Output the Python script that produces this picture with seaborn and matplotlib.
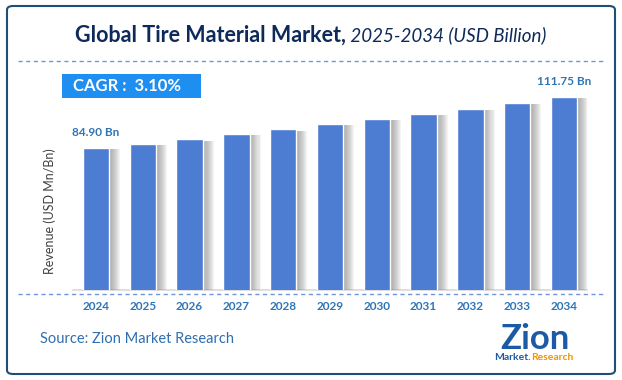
import numpy as np
import pandas as pd
import matplotlib
matplotlib.use("Agg")
import matplotlib.pyplot as plt
import matplotlib.patheffects as pe
from matplotlib.patches import FancyBboxPatch, Rectangle
from matplotlib.lines import Line2D
import seaborn as sns

# data
years = ["2024", "2025", "2026", "2027", "2028", "2029",
         "2030", "2031", "2032", "2033", "2034"]
revenue = [84.90, 87.0, 89.4, 92.3, 94.7, 97.5, 100.1, 102.9, 105.3, 108.5, 111.75]
labelled = {"2024": "84.90 Bn", "2034": "111.75 Bn"}
cagr_text = "CAGR :  3.10%"
title_main = "Global Tire Material Market,"
title_sub = " 2025-2034 (USD Billion)"
source_text = "Source: Zion Market Research"

bar_color = "#4d7dd3"
label_color = "#2e75b6"
navy = "#0e2a5a"

sns.set_theme(style="white")
plt.rcParams['font.family'] = ['Lato', 'DejaVu Sans']

df = pd.DataFrame({"year": years, "revenue": revenue})

W, H = 622, 380
fig = plt.figure(figsize=(W / 100, H / 100), dpi=100)
ax = fig.add_axes([72.6 / W, 1 - 290 / H, 514.8 / W, 215 / H])

sns.barplot(data=df, x="year", y="revenue", color=bar_color, width=0.56,
            saturation=1, ax=ax, zorder=3)
# soft grey shadow on the right of each bar
shadow = [pe.SimplePatchShadow(offset=(k, -1), shadow_rgbFace="#6f6f6f", alpha=0.07)
          for k in np.arange(8, 0.5, -0.75)]
for p in ax.patches:
    p.set_path_effects(shadow + [pe.Normal()])

ax.set_ylim(10.6, 123.1)
ax.set_xlim(-0.5, len(years) - 0.5)
ax.set_yticks([])
ax.set_xlabel("")
ax.set_ylabel("Revenue (USD Mn/Bn)", fontsize=9, color="#404040")
ax.yaxis.set_label_coords((56 - 72.6) / 514.8, (290 - 211) / 215)
for s in ["top", "right", "left"]:
    ax.spines[s].set_visible(False)
ax.spines["bottom"].set_color("#d9d9d9")
ax.spines["bottom"].set_linewidth(1.2)
ax.tick_params(axis="x", length=0, pad=8, labelsize=8.5, labelcolor=label_color)
for t in ax.get_xticklabels():
    t.set_fontweight("bold")

for i, (yr, val) in enumerate(zip(years, revenue)):
    if yr in labelled:
        ax.annotate(labelled[yr], (i, val), xytext=(0, 7), textcoords="offset points",
                    ha="center", va="bottom", fontsize=8.5, fontweight="bold",
                    color=label_color)

# title
t1 = fig.text(75 / W, 1 - 35 / H, title_main, ha="left", va="center",
              fontsize=15.5, fontweight="bold", color=navy)
ax.annotate(title_sub, xy=(1, 0.05), xycoords=t1, ha="left", va="bottom",
            fontsize=13.5, fontstyle="italic", color=navy, annotation_clip=False)

# dashed separators
for yy in (61, 294):
    fig.add_artist(Line2D([18 / W, 603 / W], [1 - yy / H, 1 - yy / H],
                          color="#6f97d8", lw=1, ls=(0, (3, 2.5))))

# CAGR box
fig.add_artist(Rectangle((61.5 / W, 1 - 97.7 / H), 140 / W, 23.7 / H,
                         transform=fig.transFigure, color="#1f8ef1", lw=0))
fig.text(73 / W, 1 - 86 / H, cagr_text, ha="left", va="center",
         fontsize=12, fontweight="bold", color="white")

# source
fig.text(40 / W, 1 - 339 / H, source_text, ha="left", va="center",
         fontsize=10.5, color="#2f6eb0")

# logo
fig.text(535 / W, 1 - 339 / H, "Zion", ha="center", va="center",
         fontsize=25, fontweight="bold", color="#1c5aa6")
fig.text(531 / W, 1 - 358 / H, "Market.", ha="right", va="center",
         fontsize=7.5, fontweight="bold", color="#1c5aa6")
fig.text(531 / W, 1 - 358 / H, "Research", ha="left", va="center",
         fontsize=7.5, fontweight="bold", color="#f39200")

# border
fig.add_artist(FancyBboxPatch((7 / W, 6 / H), 608 / W, 368 / H,
                              boxstyle="round,pad=0,rounding_size=0.01",
                              transform=fig.transFigure, fill=False,
                              edgecolor="#1f4e79", lw=1.5))

fig.savefig("out.png", dpi=100)
